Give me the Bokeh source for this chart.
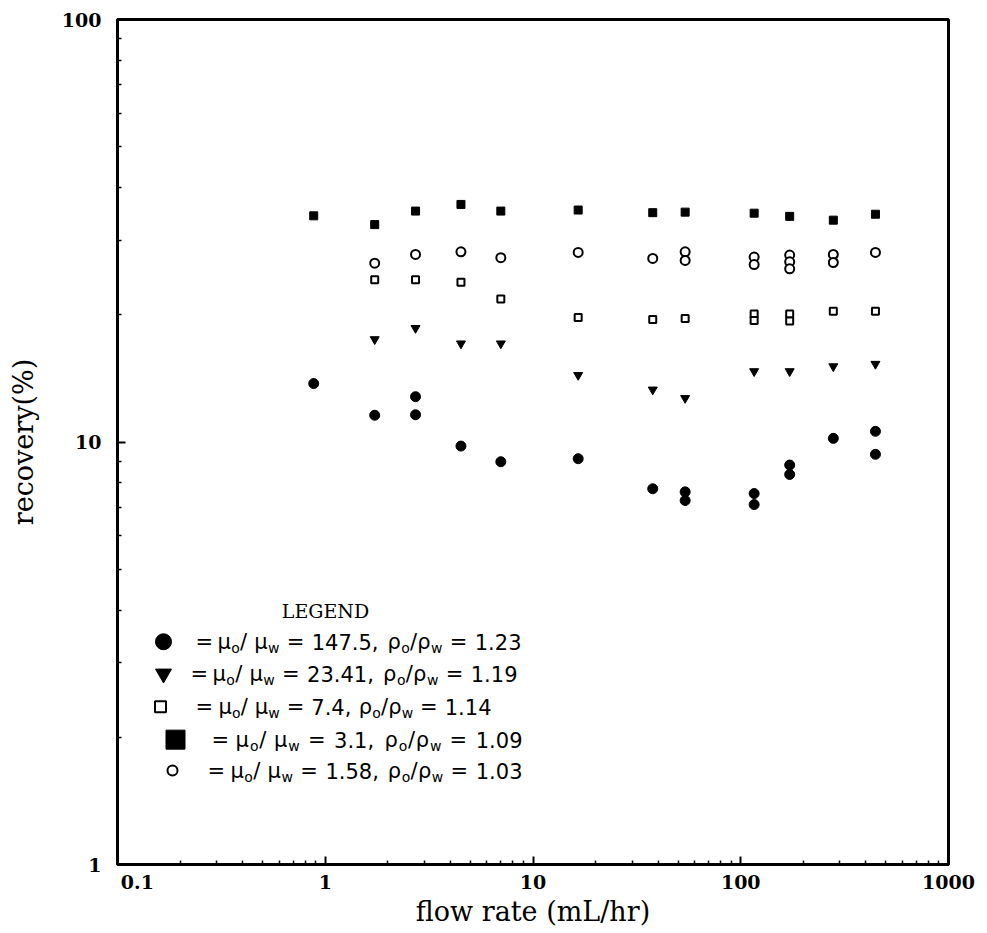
from bokeh.plotting import figure
from bokeh.models import FixedTicker
from bokeh.core.properties import value
from bokeh.embed import file_html
from bokeh.resources import INLINE
import math

# ---------------- data ----------------
# mu_o/mu_w = 147.5 (filled circles)
x_147 = [0.88, 1.73, 2.72, 2.72, 4.5, 7.0, 16.5, 37.7, 54, 54, 116, 116, 172, 172, 279, 445, 445]
y_147 = [13.75, 11.57, 12.8, 11.6, 9.78, 8.98, 9.13, 7.75, 7.62, 7.27, 7.55, 7.11, 8.82, 8.38, 10.2, 10.6, 9.35]
# mu_o/mu_w = 23.41 (filled down triangles)
x_23 = [1.73, 2.72, 4.5, 7.0, 16.5, 37.7, 54, 116, 172, 279, 445]
y_23 = [17.5, 18.6, 17.1, 17.1, 14.4, 13.3, 12.7, 14.7, 14.7, 15.1, 15.3]
# mu_o/mu_w = 7.4 (open squares)
x_74 = [1.73, 2.72, 4.5, 7.0, 16.5, 37.7, 54, 116, 116, 172, 172, 279, 445]
y_74 = [24.2, 24.2, 23.9, 21.8, 19.7, 19.5, 19.6, 20.1, 19.4, 20.1, 19.35, 20.4, 20.4]
# mu_o/mu_w = 3.1 (filled squares)
x_31 = [0.88, 1.73, 2.72, 4.5, 7.0, 16.5, 37.7, 54, 116, 172, 279, 445]
y_31 = [34.3, 32.7, 35.2, 36.5, 35.2, 35.4, 34.9, 35.0, 34.8, 34.2, 33.5, 34.6]
# mu_o/mu_w = 1.58 (open circles)
x_158 = [1.73, 2.72, 4.5, 7.0, 16.5, 37.7, 54, 54, 116, 116, 172, 172, 172, 279, 279, 445]
y_158 = [26.5, 27.8, 28.2, 27.3, 28.1, 27.2, 28.2, 26.9, 27.4, 26.3, 27.7, 26.7, 25.7, 27.8, 26.6, 28.1]

legend_mu = ["147.5", "23.41", "7.4", "3.1", "1.58"]
legend_rho = ["1.23", "1.19", "1.14", "1.09", "1.03"]

x_ticks = [0.1, 1, 10, 100, 1000]
x_tick_labels = ["0.1", "1", "10", "100", "1000"]
y_ticks = [1, 10, 100]
y_tick_labels = ["1", "10", "100"]

# ---------------- layout ----------------
W, H = 975, 929
L, R, T, B = 117, 948, 19, 865      # frame edges in pixels
X0, X1, Y0, Y1 = 0.1, 1000.0, 1.0, 100.0


def xd(px):
    return 10 ** (math.log10(X0) + (px - L) / (R - L) * (math.log10(X1) - math.log10(X0)))


def yd(py):
    return 10 ** (math.log10(Y0) + (B - py) / (B - T) * (math.log10(Y1) - math.log10(Y0)))


p = figure(width=W, height=H, x_axis_type="log", y_axis_type="log",
           x_range=(X0, X1), y_range=(Y0, Y1),
           output_backend="svg", toolbar_location=None,
           min_border_left=L, min_border_right=W - R,
           min_border_top=T, min_border_bottom=H - B)
p.grid.visible = False
p.background_fill_color = "white"
p.border_fill_color = "white"
p.outline_line_color = "black"
p.outline_line_width = 3

minor_x = [m * 10 ** e for e in range(-1, 3) for m in range(2, 10)]
minor_y = [m * 10 ** e for e in range(0, 2) for m in range(2, 10)]
p.xaxis.ticker = FixedTicker(ticks=x_ticks, minor_ticks=minor_x)
p.yaxis.ticker = FixedTicker(ticks=y_ticks, minor_ticks=minor_y)
xo = dict(zip(x_ticks, x_tick_labels))
xo[x_ticks[0]] = "\u2007\u2007\u2007" + x_tick_labels[0]   # first label sits right of its tick
p.xaxis.major_label_overrides = xo
p.yaxis.major_label_overrides = dict(zip(y_ticks, y_tick_labels))

for ax in (p.xaxis[0], p.yaxis[0]):
    ax.axis_line_width = 3
    ax.axis_line_color = "black"
    ax.major_tick_in = 8
    ax.major_tick_out = 0
    ax.minor_tick_in = 4
    ax.minor_tick_out = 0
    ax.major_tick_line_width = 2
    ax.minor_tick_line_width = 1.5
    ax.major_tick_line_color = "black"
    ax.minor_tick_line_color = "black"
    ax.major_label_text_font = "DejaVu Serif"
    ax.major_label_text_font_style = "bold"
    ax.major_label_text_font_size = "19px"
    ax.major_label_text_color = "black"
    ax.axis_label_text_font = "DejaVu Serif"
    ax.axis_label_text_font_style = "normal"
    ax.axis_label_text_font_size = "27px"
    ax.axis_label_text_color = "black"

p.xaxis.axis_label = "flow rate (mL/hr)"
p.yaxis.axis_label = "recovery(%)"
p.xaxis.major_label_standoff = 6
p.xaxis.axis_label_standoff = 0
p.yaxis.major_label_standoff = 16
p.yaxis.axis_label_standoff = 20

# ---------------- data points ----------------
p.scatter(x_31, y_31, marker="square", size=8, color="black")
p.scatter(x_158, y_158, marker="circle", size=9, fill_color="white", line_color="black", line_width=2)
p.scatter(x_74, y_74, marker="square", size=7, fill_color="white", line_color="black", line_width=2)
p.scatter(x_23, y_23, marker="inverted_triangle", size=9, color="black")
p.scatter(x_147, y_147, marker="circle", size=10, color="black")

# ---------------- legend ----------------
row_py = [642, 674, 707, 740, 771]
mark_px = [163, 163, 160, 175, 172]
eq_px = [195, 190, 195, 211, 207]
start_px = [217, 212, 218, 235, 230]
end_px = [521, 517, 491, 522, 522]
mk = [dict(marker="circle", size=16, fill_color="black", line_color="black", line_width=1),
      dict(marker="inverted_triangle", size=16, fill_color="black", line_color="black", line_width=1),
      dict(marker="square", size=11, fill_color="white", line_color="black", line_width=2),
      dict(marker="square", size=19, fill_color="black", line_color="black", line_width=1),
      dict(marker="circle", size=10, fill_color="white", line_color="black", line_width=2)]

FM, FS = 21, 14
adv = {' ': 0.318, ',': 0.318, '.': 0.318, '/': 0.337, '=': 0.838, 'o': 0.612,
       'w': 0.818, 'μ': 0.636, 'ρ': 0.635}


def tw(s, fs):
    return sum(adv.get(c, 0.636) for c in s) * fs


p.text(x=[xd(325)], y=[yd(611)], text=["LEGEND"], text_align="center", text_baseline="middle",
       text_font=value("DejaVu Serif"), text_font_size=value("19px"), text_color="black")

main_x, main_y, main_t = [], [], []
sub_x, sub_y, sub_t = [], [], []
for i in range(5):
    py = row_py[i]
    p.scatter([xd(mark_px[i])], [yd(py)], **mk[i])
    main_x.append(xd(eq_px[i])); main_y.append(yd(py)); main_t.append("=")
    pieces = [("μ", "m"), ("o", "s"), ("/", "m"), (" ", "g"), ("μ", "m"), ("w", "s"),
              (" ", "g"), ("=", "m"), (" ", "g"), (legend_mu[i] + ",", "m"), (" ", "g"),
              ("ρ", "m"), ("o", "s"), ("/", "m"), ("ρ", "m"), ("w", "s"), (" ", "g"),
              ("=", "m"), (" ", "g"), (legend_rho[i], "m")]
    ws = [tw(t, FS if k == "s" else FM) for t, k in pieces]
    total = sum(ws)
    k = (end_px[i] - start_px[i] - ws[-1]) / (total - ws[-1])
    cur = start_px[i]
    for (t, kind), w in zip(pieces, ws):
        if kind == "m":
            main_x.append(xd(cur)); main_y.append(yd(py)); main_t.append(t)
        elif kind == "s":
            sub_x.append(xd(cur)); sub_y.append(yd(py + 6)); sub_t.append(t)
        cur += w * k

p.text(x=main_x, y=main_y, text=main_t, text_align="left", text_baseline="middle",
       text_font=value("DejaVu Sans"), text_font_size=value(f"{FM}px"), text_color="black")
p.text(x=sub_x, y=sub_y, text=sub_t, text_align="left", text_baseline="middle",
       text_font=value("DejaVu Sans"), text_font_size=value(f"{FS}px"), text_color="black")

open("out.html", "w").write(file_html(p, INLINE))
